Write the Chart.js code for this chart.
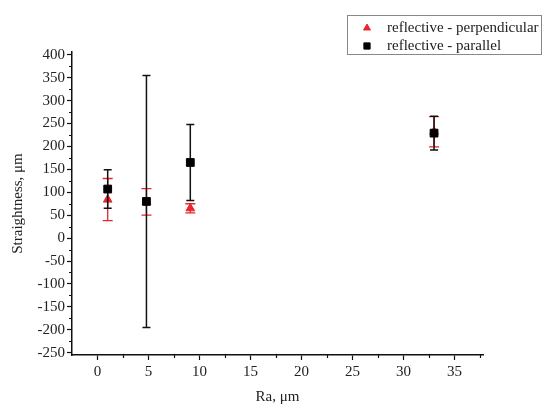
<!DOCTYPE html>
<html>
<head>
<meta charset="utf-8">
<script src="https://cdn.jsdelivr.net/npm/chart.js@4/dist/chart.umd.min.js"></script>
<style>
  html, body { margin: 0; padding: 0; background: #fff; }
  #wrap { width: 543px; height: 404px; }
</style>
</head>
<body>
<div id="wrap"><canvas id="myChart"></canvas></div>
<script>
// data
const raValues = [1, 4.8, 9.1, 33];
const perpValues = [84, 79, 65, 232];
const perpErrors = [46, 29, 10, 33];
const parValues = [107, 80, 165, 229];
const parErrors = [42, 275, 83, 37];
const seriesLabels = ["reflective - perpendicular", "reflective - parallel"];
const xTickLabels = [0, 5, 10, 15, 20, 25, 30, 35];
const yTickLabels = [-250, -200, -150, -100, -50, 0, 50, 100, 150, 200, 250, 300, 350, 400];

const FONT = "'Liberation Serif', 'Times New Roman', serif";

const toPoints = (vals) => vals.map((v, i) => ({x: raValues[i], y: v}));

// error bars drawn right before each dataset's markers
const errorBars = {
    id: "errorBars",
    beforeDatasetDraw(chart, args) {
        const ds = chart.data.datasets[args.index];
        if (!ds.errors) return;
        const {ctx, scales: {x, y}} = chart;
        ctx.save();
        ctx.strokeStyle = ds.errorColor;
        ctx.lineWidth = ds.errorWidth;
        ds.data.forEach((p, i) => {
            const px = x.getPixelForValue(p.x);
            const top = y.getPixelForValue(p.y + ds.errors[i]);
            const bot = y.getPixelForValue(p.y - ds.errors[i]);
            const c = ds.capHalf;
            ctx.beginPath();
            ctx.moveTo(px, top); ctx.lineTo(px, bot);
            ctx.moveTo(px - c, top); ctx.lineTo(px + c, top);
            ctx.moveTo(px - c, bot); ctx.lineTo(px + c, bot);
            ctx.stroke();
        });
        ctx.restore();
    }
};

// minor ticks halfway between the labelled ones
const minorTicks = {
    id: "minorTicks",
    afterDraw(chart) {
        const {ctx, scales: {x, y}} = chart;
        ctx.save();
        ctx.strokeStyle = "#111";
        ctx.lineWidth = 1.2;
        ctx.beginPath();
        for (let v = -225; v < 400; v += 50) {
            const py = Math.round(y.getPixelForValue(v)) + 0.5;
            ctx.moveTo(x.left, py); ctx.lineTo(x.left - 3, py);
        }
        for (let v = 2.5; v < 38; v += 5) {
            const px = Math.round(x.getPixelForValue(v)) + 0.5;
            ctx.moveTo(px, y.bottom); ctx.lineTo(px, y.bottom + 3);
        }
        ctx.stroke();
        ctx.restore();
    }
};

// boxed legend at the top right
const boxLegend = {
    id: "boxLegend",
    afterDraw(chart) {
        const ctx = chart.ctx;
        ctx.save();
        ctx.fillStyle = "#fff";
        ctx.fillRect(347, 15, 194, 39);
        ctx.strokeStyle = "#888";
        ctx.lineWidth = 1;
        ctx.strokeRect(347.5, 15.5, 194, 39);
        ctx.font = "15px " + FONT;
        ctx.textBaseline = "middle";
        chart.data.datasets.forEach((ds, i) => {
            const yy = 28 + i * 18;
            ctx.fillStyle = ds.backgroundColor;
            ctx.strokeStyle = ds.borderColor;
            Chart.helpers.drawPoint(ctx, {pointStyle: ds.pointStyle, radius: ds.pointRadius * 0.8, borderWidth: 1}, 367, yy);
            ctx.fillStyle = "#222";
            ctx.fillText(ds.label, 387, yy);
        });
        ctx.restore();
    }
};

new Chart(document.getElementById("myChart"), {
    type: "scatter",
    data: {
        datasets: [
            {
                label: seriesLabels[0],
                data: toPoints(perpValues),
                errors: perpErrors,
                errorColor: "#e8262c",
                errorWidth: 1.3,
                capHalf: 5,
                pointStyle: "triangle",
                pointRadius: 5,
                backgroundColor: "#e8262c",
                borderColor: "#e8262c",
                borderWidth: 1,
                order: 1
            },
            {
                label: seriesLabels[1],
                data: toPoints(parValues),
                errors: parErrors,
                errorColor: "#111",
                errorWidth: 1.5,
                capHalf: 4,
                pointStyle: "rect",
                pointRadius: 5.5,
                backgroundColor: "#000",
                borderColor: "#000",
                borderWidth: 1,
                order: 0
            }
        ]
    },
    plugins: [errorBars, minorTicks, boxLegend],
    options: {
        responsive: true,
        maintainAspectRatio: false,
        animation: false,
        layout: {padding: {left: 0, top: 52, right: 60, bottom: 0}},
        plugins: {legend: {display: false}, tooltip: {enabled: false}},
        scales: {
            x: {
                type: "linear",
                min: -2.5,
                max: 37.8,
                afterBuildTicks: (scale) => { scale.ticks = xTickLabels.map(v => ({value: v})); },
                afterFit: (scale) => { scale.height = 49; },
                border: {display: true, color: "#111", width: 1.5},
                grid: {drawOnChartArea: false, color: "#111", tickLength: 5, tickWidth: 1.2},
                ticks: {color: "#222", font: {family: FONT, size: 15}, padding: 3},
                title: {display: true, text: "Ra, μm", color: "#222", font: {family: FONT, size: 15, lineHeight: 0.9}, padding: {top: 4, bottom: 0}}
            },
            y: {
                type: "linear",
                min: -255,
                max: 406,
                afterBuildTicks: (scale) => { scale.ticks = yTickLabels.map(v => ({value: v})); },
                afterFit: (scale) => { scale.width = 72; },
                border: {display: true, color: "#111", width: 1.5},
                grid: {drawOnChartArea: false, color: "#111", tickLength: 5, tickWidth: 1.2},
                ticks: {color: "#222", font: {family: FONT, size: 15}, padding: 2},
                title: {display: true, text: "Straightness, μm", color: "#222", font: {family: FONT, size: 15}, padding: {top: 9, bottom: 0}}
            }
        }
    }
});
</script>
</body>
</html>
